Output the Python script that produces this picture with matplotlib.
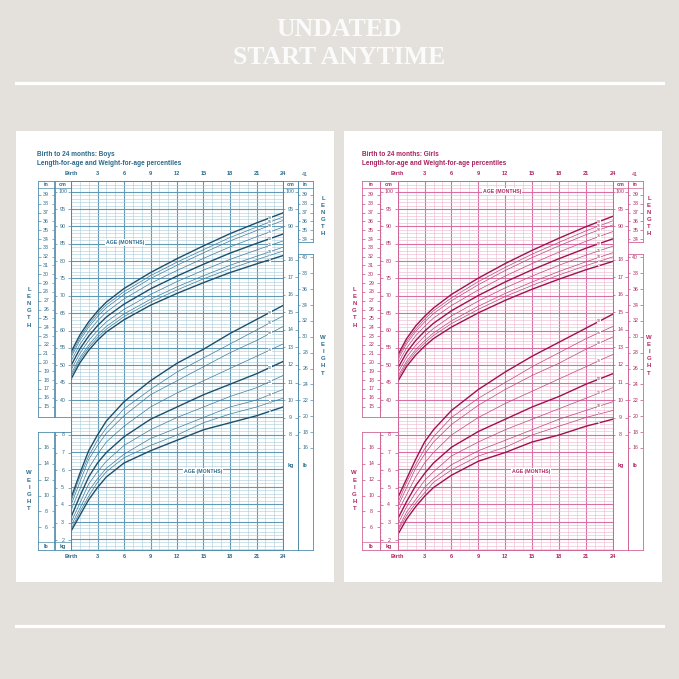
import matplotlib
matplotlib.use("Agg")
import matplotlib.pyplot as plt
from matplotlib.lines import Line2D
from matplotlib.patches import Rectangle
import matplotlib.transforms as mtransforms
import numpy as np

# ---------------- data ----------------
months = [0, 1, 2, 3, 4, 6, 9, 12, 15, 18, 21, 24]
percentiles = [2, 5, 10, 25, 50, 75, 90, 95, 98]
age_ticks = [0, 3, 6, 9, 12, 15, 18, 21, 24]
age_labels = ["Birth", "3", "6", "9", "12", "15", "18", "21", "24"]

boys_len_p2 = [46.0, 50.7, 54.3, 57.2, 59.6, 63.1, 67.3, 70.7, 73.8, 76.7, 79.2, 81.6]
boys_len_p5 = [46.8, 51.5, 55.1, 58.0, 60.4, 64.0, 68.2, 71.7, 74.9, 77.8, 80.4, 82.9]
boys_len_p10 = [47.5, 52.2, 55.8, 58.8, 61.2, 64.8, 69.0, 72.6, 75.8, 78.8, 81.4, 84.0]
boys_len_p25 = [48.6, 53.4, 57.1, 60.0, 62.5, 66.1, 70.4, 74.1, 77.4, 80.5, 83.2, 85.8]
boys_len_p50 = [49.9, 54.7, 58.4, 61.4, 63.9, 67.6, 72.0, 75.7, 79.1, 82.3, 85.1, 87.8]
boys_len_p75 = [51.2, 56.0, 59.7, 62.8, 65.3, 69.1, 73.6, 77.3, 80.8, 84.1, 87.0, 89.8]
boys_len_p90 = [52.3, 57.2, 61.0, 64.0, 66.6, 70.4, 75.0, 78.8, 82.4, 85.8, 88.8, 91.7]
boys_len_p95 = [53.0, 57.9, 61.7, 64.8, 67.4, 71.2, 75.8, 79.7, 83.3, 86.8, 89.8, 92.7]
boys_len_p98 = [53.8, 58.7, 62.5, 65.6, 68.2, 72.1, 76.7, 80.7, 84.4, 87.9, 91.0, 93.9]

boys_wt_p2 = [2.5, 3.4, 4.3, 5.0, 5.6, 6.4, 7.1, 7.7, 8.3, 8.7, 9.1, 9.6]
boys_wt_p5 = [2.6, 3.6, 4.5, 5.3, 5.9, 6.7, 7.4, 8.0, 8.7, 9.2, 9.6, 10.1]
boys_wt_p10 = [2.8, 3.8, 4.8, 5.5, 6.1, 6.9, 7.8, 8.4, 9.0, 9.6, 10.0, 10.6]
boys_wt_p25 = [3.0, 4.1, 5.2, 5.9, 6.5, 7.4, 8.3, 9.0, 9.6, 10.2, 10.7, 11.4]
boys_wt_p50 = [3.3, 4.5, 5.6, 6.4, 7.0, 7.9, 8.9, 9.6, 10.3, 10.9, 11.5, 12.2]
boys_wt_p75 = [3.7, 4.9, 6.1, 6.9, 7.6, 8.5, 9.6, 10.4, 11.1, 11.8, 12.5, 13.2]
boys_wt_p90 = [4.0, 5.3, 6.6, 7.4, 8.1, 9.1, 10.3, 11.1, 11.9, 12.7, 13.4, 14.2]
boys_wt_p95 = [4.2, 5.6, 6.8, 7.7, 8.4, 9.5, 10.6, 11.6, 12.4, 13.2, 14.0, 14.8]
boys_wt_p98 = [4.4, 5.8, 7.1, 8.0, 8.8, 9.9, 11.1, 12.1, 12.9, 13.8, 14.6, 15.4]

girls_len_p2 = [45.3, 49.7, 52.9, 55.5, 57.7, 61.0, 65.1, 68.7, 71.9, 74.8, 77.5, 79.9]
girls_len_p5 = [46.0, 50.5, 53.8, 56.4, 58.6, 62.0, 66.1, 69.8, 73.0, 76.0, 78.7, 81.2]
girls_len_p10 = [46.7, 51.2, 54.5, 57.1, 59.3, 62.8, 67.0, 70.7, 74.0, 77.0, 79.8, 82.4]
girls_len_p25 = [47.8, 52.4, 55.7, 58.4, 60.6, 64.2, 68.5, 72.3, 75.7, 78.8, 81.7, 84.3]
girls_len_p50 = [49.1, 53.7, 57.1, 59.8, 62.1, 65.7, 70.1, 74.0, 77.5, 80.7, 83.7, 86.4]
girls_len_p75 = [50.4, 55.0, 58.5, 61.2, 63.6, 67.2, 71.7, 75.7, 79.3, 82.6, 85.7, 88.5]
girls_len_p90 = [51.5, 56.2, 59.7, 62.5, 64.9, 68.6, 73.2, 77.3, 81.0, 84.4, 87.6, 90.4]
girls_len_p95 = [52.2, 56.9, 60.4, 63.3, 65.7, 69.4, 74.1, 78.2, 82.0, 85.4, 88.7, 91.6]
girls_len_p98 = [52.9, 57.7, 61.3, 64.1, 66.5, 70.4, 75.1, 79.3, 83.1, 86.6, 89.9, 92.9]

girls_wt_p2 = [2.3, 3.2, 3.9, 4.5, 5.0, 5.7, 6.5, 7.0, 7.6, 8.0, 8.5, 8.9]
girls_wt_p5 = [2.5, 3.4, 4.1, 4.7, 5.3, 6.0, 6.8, 7.3, 8.0, 8.5, 9.0, 9.4]
girls_wt_p10 = [2.6, 3.6, 4.3, 5.0, 5.5, 6.3, 7.1, 7.7, 8.3, 8.9, 9.4, 9.9]
girls_wt_p25 = [2.9, 3.9, 4.7, 5.4, 5.9, 6.8, 7.6, 8.3, 8.9, 9.5, 10.1, 10.7]
girls_wt_p50 = [3.2, 4.2, 5.1, 5.8, 6.4, 7.3, 8.2, 8.9, 9.6, 10.2, 10.9, 11.5]
girls_wt_p75 = [3.6, 4.6, 5.6, 6.4, 7.0, 8.0, 9.0, 9.8, 10.5, 11.2, 11.9, 12.6]
girls_wt_p90 = [3.9, 5.0, 6.1, 6.9, 7.6, 8.6, 9.7, 10.6, 11.4, 12.1, 12.9, 13.6]
girls_wt_p95 = [4.1, 5.3, 6.3, 7.2, 7.9, 9.0, 10.1, 11.0, 11.9, 12.7, 13.5, 14.2]
girls_wt_p98 = [4.4, 5.5, 6.6, 7.6, 8.3, 9.4, 10.6, 11.6, 12.5, 13.3, 14.1, 14.9]

boys_len = [boys_len_p2, boys_len_p5, boys_len_p10, boys_len_p25, boys_len_p50,
            boys_len_p75, boys_len_p90, boys_len_p95, boys_len_p98]
boys_wt = [boys_wt_p2, boys_wt_p5, boys_wt_p10, boys_wt_p25, boys_wt_p50,
           boys_wt_p75, boys_wt_p90, boys_wt_p95, boys_wt_p98]
girls_len = [girls_len_p2, girls_len_p5, girls_len_p10, girls_len_p25, girls_len_p50,
             girls_len_p75, girls_len_p90, girls_len_p95, girls_len_p98]
girls_wt = [girls_wt_p2, girls_wt_p5, girls_wt_p10, girls_wt_p25, girls_wt_p50,
            girls_wt_p75, girls_wt_p90, girls_wt_p95, girls_wt_p98]

left_in_labels = list(range(15, 40))
left_cm_labels = list(range(40, 101, 5))
left_lb_labels = [6, 8, 10, 12, 14, 16]
left_kg_labels = [2, 3, 4, 5, 6, 7, 8]
right_cm_labels = [90, 95, 100]
right_in_labels = [34, 35, 36, 37, 38, 39]
right_kg_labels = list(range(8, 19))
right_lb_labels = list(range(16, 41, 2))

# ---------------- layout ----------------
W = H = 679
fig = plt.figure(figsize=(6.79, 6.79), dpi=100)
fig.patch.set_facecolor("#e4e1dd")
SANS = ["Liberation Sans", "DejaVu Sans"]


def px_box(x0, y0, x1, y1):
    return [x0 / W, 1 - y1 / H, (x1 - x0) / W, (y1 - y0) / H]


def cm_at(y):
    return 40 + (400 - y) / 3.472


def kg_at(y):
    return 8 + (435 - y) / 17.5


CONV = {"cm": cm_at, "in": lambda y: cm_at(y) / 2.54,
        "kg": kg_at, "lb": lambda y: kg_at(y) * 2.20462}

# title
fig.text(0.5, 1 - 30 / H, "UNDATED", ha="center", va="center", color="#fbfbfb",
         fontsize=18.5, fontweight="bold", family=["Liberation Serif", "DejaVu Serif"])
fig.text(0.5, 1 - 57.5 / H, "START ANYTIME", ha="center", va="center", color="#fbfbfb",
         fontsize=18.5, fontweight="bold", family=["Liberation Serif", "DejaVu Serif"])
fig.add_artist(Line2D([16 / W, 663 / W], [1 - 82.5 / H] * 2, color="white", lw=2.3))
fig.add_artist(Line2D([16 / W, 663 / W], [1 - 625.5 / H] * 2, color="white", lw=2.3))

# pages
for x0, x1 in [(16, 333.5), (344, 662)]:
    fig.add_artist(Rectangle((x0 / W, 1 - 582 / H), (x1 - x0) / W, (582 - 131) / H,
                             transform=fig.transFigure, fc="white", ec="none", zorder=0))

TOP, BOT = 180.7, 550.0


def column(x0, y0, x1, y1, unit, labels, txtc, linec, frame=True, minor=None):
    a = fig.add_axes(px_box(x0, y0, x1, y1))
    conv = CONV[unit]
    a.set_xlim(0, 1)
    a.set_ylim(conv(y1), conv(y0))
    a.set_xticks([])
    a.set_yticks([])
    a.patch.set_alpha(0)
    for s in a.spines.values():
        s.set_visible(frame)
        s.set_color(linec)
        s.set_linewidth(0.6)
    for v in labels:
        a.text(0.5, v, str(v), ha="center", va="center", fontsize=3.8, color=txtc, family=SANS)
        a.hlines(v, 0, 0.17, color=txtc, lw=0.4)
        a.hlines(v, 0.83, 1, color=txtc, lw=0.4)
    if minor:
        for v in minor:
            a.hlines(v, 0.0, 0.1, color=linec, lw=0.3)
    return a


def header(x0, x1, y, text, txtc):
    fig.text((x0 + x1) / 2 / W, 1 - y / H, text, ha="center", va="center",
             fontsize=3.9, fontweight="bold", color=txtc, family=SANS)


def hline(x0, x1, y, c, lw=0.5):
    fig.add_artist(Line2D([x0 / W, x1 / W], [1 - y / H] * 2, color=c, lw=lw))


def vertical_word(word, x, y0, step, txtc):
    for i, ch in enumerate(word):
        fig.text(x / W, 1 - (y0 + i * step) / H, ch, ha="center", va="center",
                 fontsize=4.3, fontweight="bold", color=txtc, family=SANS)


def draw_chart(cfg, len_data, wt_data):
    c = cfg
    # ----- main plot area -----
    ax = fig.add_axes(px_box(c["xp0"], TOP, c["xp1"], BOT))
    ax.set_xlim(0, 24)
    ax.set_ylim(cm_at(BOT), cm_at(TOP))
    ax.set_xticks(age_ticks)
    ax.set_xticks(range(25), minor=True)
    ax.set_yticks(range(0, 105, 5))
    ax.set_yticks(range(-3, 104), minor=True)
    ax.grid(which="minor", color=c["minor"], lw=0.4)
    ax.grid(which="major", color=c["major"], lw=0.8)
    ax.tick_params(which="both", length=0, labelbottom=False, labelleft=False)
    for s in ax.spines.values():
        s.set_color(c["box"])
        s.set_linewidth(0.7)
    axw = ax.twinx()
    axw.set_ylim(kg_at(BOT), kg_at(TOP))
    axw.set_yticks([])
    for s in axw.spines.values():
        s.set_visible(False)

    for target, series in [(ax, len_data), (axw, wt_data)]:
        for p, vals in zip(percentiles, series):
            heavy = p in (2, 50, 98)
            target.plot(months, vals, color=c["curve"] if heavy else c["thin"],
                        lw=1.0 if heavy else 0.5, zorder=3, solid_joinstyle="round")
            yl = np.interp(22.5, months, vals)
            target.text(22.5, yl, str(p), ha="center", va="center", fontsize=2.6,
                        color=c["curve"], family=SANS, zorder=4,
                        bbox=dict(fc="white", ec="none", pad=0.15))

    # age labels top and bottom
    trans = mtransforms.blended_transform_factory(ax.transData, ax.transAxes)
    ftop = (BOT - 174) / (BOT - TOP)
    fbot = (BOT - 556.5) / (BOT - TOP)
    for m, lab in zip(age_ticks, age_labels):
        for fy in (ftop, fbot):
            ax.text(m, fy, lab, transform=trans, ha="center", va="center",
                    fontsize=4.1, fontweight="bold", color=c["txt"], family=SANS,
                    clip_on=False)

    # AGE (MONTHS)
    for (xx, yy) in (c["age_up"], c["age_lo"]):
        fig.text(xx / W, 1 - yy / H, "AGE (MONTHS)", ha="center", va="center",
                 fontsize=3.7, fontweight="bold", color=c["txt"], family=SANS,
                 bbox=dict(fc="white", ec="none", pad=0.6), zorder=5)

    txt, lc = c["txt"], c["box"]
    # ----- left columns -----
    column(c["xl"], TOP, c["xdiv"], 417, "in", left_in_labels, txt, lc)
    column(c["xdiv"], TOP, c["xp0"], 417, "cm", left_cm_labels, txt, lc,
           minor=list(range(37, 101)))
    column(c["xl"], 432, c["xdiv"], BOT, "lb", left_lb_labels, txt, lc)
    column(c["xdiv"], 432, c["xp0"], BOT, "kg", left_kg_labels, txt, lc,
           minor=[v / 5 for v in range(8, 42)])
    header(c["xl"], c["xdiv"], 184.3, "in", txt)
    header(c["xdiv"], c["xp0"], 184.3, "cm", txt)
    hline(c["xl"], c["xp0"], 188, lc, 0.5)
    header(c["xl"], c["xdiv"], 546.2, "lb", txt)
    header(c["xdiv"], c["xp0"], 546.2, "kg", txt)
    hline(c["xl"], c["xp0"], 541.8, lc, 0.5)

    # ----- right columns -----
    column(c["xp1"], TOP, c["xr1"], BOT, "cm", right_cm_labels, txt, lc)
    column(c["xp1"], TOP, c["xr1"], BOT, "kg", right_kg_labels, txt, lc, frame=False)
    column(c["xr1"], TOP, c["xr2"], 242, "in", right_in_labels, txt, lc)
    column(c["xr1"], 254, c["xr2"], BOT, "lb", right_lb_labels, txt, lc)
    header(c["xp1"], c["xr1"], 184.3, "cm", txt)
    header(c["xr1"], c["xr2"], 184.3, "in", txt)
    hline(c["xp1"], c["xr2"], 188, lc, 0.5)
    header(c["xp1"], c["xr1"], 465.7, "kg", txt)
    header(c["xr1"], c["xr2"], 465.7, "lb", txt)
    fig.text((c["xr1"] + c["xr2"]) / 2 / W, 1 - 174 / H, "41", ha="center", va="center",
             fontsize=3.9, color=txt, family=SANS)

    # titles
    fig.text(c["title_x"] / W, 1 - 154.5 / H, c["title1"], ha="left", va="center",
             fontsize=4.7, fontweight="bold", color=c["head"], family=SANS)
    fig.text(c["title_x"] / W, 1 - 163.5 / H, "Length-for-age and Weight-for-age percentiles",
             ha="left", va="center", fontsize=4.7, fontweight="bold", color=c["head"],
             family=SANS)

    vertical_word("LENGTH", c["right_x"], 198.5, 7.0, txt)
    vertical_word("WEIGHT", c["right_x"], 337.5, 7.1, txt)
    vertical_word("LENGTH", c["left_x"], 289.5, 7.1, txt)
    vertical_word("WEIGHT", c["left_x"], 473.0, 7.1, txt)


boys_cfg = dict(xl=37.7, xdiv=54.5, xp0=71.0, xp1=283.0, xr1=297.7, xr2=312.7,
                title_x=37.0, left_x=29.0, right_x=323.0,
                age_up=(125, 242.7), age_lo=(203, 471),
                title1="Birth to 24 months: Boys",
                curve="#1c4f6c", thin="#3f7d9b", minor="#a9cbdb", major="#6299b5",
                box="#4f8cab", txt="#2d6c8c", head="#2a6a8c")
girls_cfg = dict(xl=362.3, xdiv=380.0, xp0=397.7, xp1=612.7, xr1=628.0, xr2=642.7,
                 title_x=361.7, left_x=354.3, right_x=649.0,
                 age_up=(501.7, 191.7), age_lo=(531, 471.7),
                 title1="Birth to 24 months: Girls",
                 curve="#9b1350", thin="#b9487c", minor="#f0b5ce", major="#d970a3",
                 box="#d06596", txt="#b02763", head="#a8235e")

draw_chart(boys_cfg, boys_len, boys_wt)
draw_chart(girls_cfg, girls_len, girls_wt)

fig.savefig("out.png", dpi=100, facecolor=fig.get_facecolor())
